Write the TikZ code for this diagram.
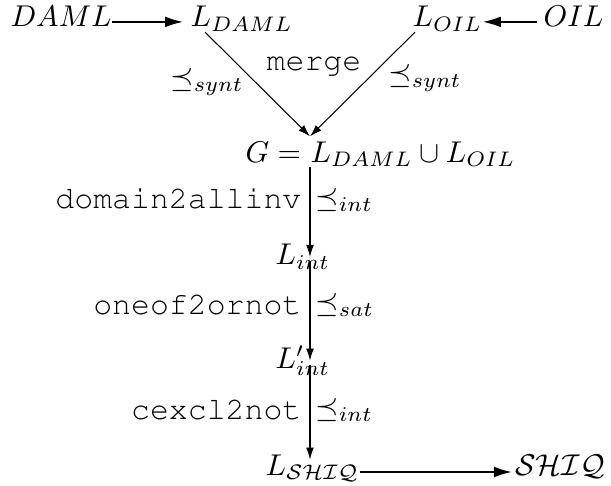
\documentclass[tikz,border=0pt]{standalone}
\usepackage{amsmath}
\usepackage{amssymb}
\usetikzlibrary{arrows.meta}
\newcommand{\cour}{\fontencoding{T1}\fontfamily{pcr}\fontsize{10.5pt}{12pt}\selectfont}

\begin{document}
\begin{tikzpicture}[x=0.333pt,y=-0.333pt,
  term/.style={inner sep=0pt,anchor=base west},
  lab/.style={inner sep=0pt},
  bigarrow/.style={-{Latex[length=6pt,width=3.6pt]},line width=0.6pt},
  smallarrow/.style={-{Latex[length=4pt,width=2.6pt]},line width=0.35pt}]
\useasboundingbox (0,0) rectangle (611,486);
% languages
\node[term] (daml) at (10,27) {$DAML$};
\node[term] (ldaml) at (190,27) {$L_{DAML}$};
\node[term] (loil) at (412,27) {$L_{OIL}$};
\node[term] (oil) at (543,27) {$OIL$};
\node[term] (gu) at (310,162) {$L_{DAML}\cup L_{OIL}$};
\node[term,anchor=base east] (geq) at (gu.base west) {$G={}$};
\node[term] (lint) at (275,265) {$L_{int}$};
\node[term] (lintp) at (275,368) {$L'_{int}$};
\node[term] (lshiq) at (265,475) {$L_{\mathcal{SHIQ}}$};
\node[term] (shiq) at (515,475) {$\mathcal{SHIQ}$};
% translations
\draw[bigarrow] ([yshift=1.7pt]daml.base east) -- ([xshift=-2.3pt,yshift=1.7pt]ldaml.base west);
\draw[bigarrow] ([xshift=-2pt,yshift=1.7pt]oil.base west) -- ([yshift=1.7pt]loil.base east);
\draw[smallarrow] ([xshift=5pt]ldaml.south west) -- ([yshift=1.5pt]gu.north west);
\draw[smallarrow] ([xshift=1pt]loil.south west) -- ([yshift=1.5pt]gu.north west);
\draw[smallarrow] (gu.south west) -- (lint.center -| gu.west);
\draw[smallarrow,shorten <=1.5pt] (lint.center -| gu.west) -- (lintp.center -| gu.west);
\draw[smallarrow,shorten <=1.5pt,shorten >=2.8pt] (lintp.center -| gu.west) -- (lshiq.center -| gu.west);
\draw[bigarrow] ([yshift=1pt]lshiq.base east) -- ([xshift=-1pt,yshift=1pt]shiq.base west);
% labels
\node[lab] (merge) at (314,66) {\cour merge};
\node[lab] (synl) at (207,82) {$\preceq_{synt}$};
\node[lab] (synr) at (425,78) {$\preceq_{synt}$};
\node[lab,anchor=east] (dom) at (302,199) {\cour domain2allinv};
\node[lab,anchor=west] (ord1) at (315,200) {$\preceq_{int}$};
\node[lab,anchor=east] (oneof) at (302,305) {\cour oneof2ornot};
\node[lab,anchor=west] (ord2) at (315,305) {$\preceq_{sat}$};
\node[lab,anchor=east] (cexcl) at (302,410) {\cour cexcl2not};
\node[lab,anchor=west] (ord3) at (315,410) {$\preceq_{int}$};
\end{tikzpicture}
\end{document}
